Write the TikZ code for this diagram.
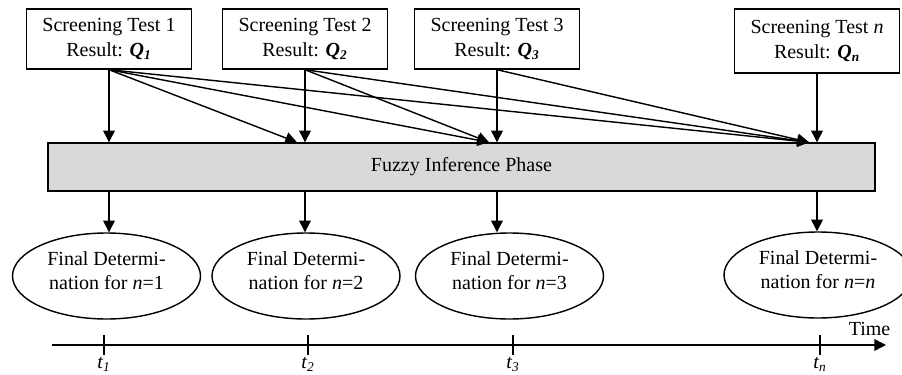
\documentclass[tikz,border=0pt,12pt]{standalone}
\usepackage{fontspec}
\setmainfont{Liberation Serif}
\usetikzlibrary{arrows.meta,calc,shapes.geometric}
\tikzset{>={Triangle[length=7pt,width=7pt]}}
\colorlet{phasegray}{black!15}
\newcommand{\resq}[1]{\textbf{\textit{Q\textsubscript{#1}}}}
\newcommand{\tick}[1]{\textit{t}\textsubscript{\textit{#1}}}

\begin{document}
\begin{tikzpicture}[x=0.6pt,y=-0.6pt,line width=0.85pt,
  testbox/.style={draw,fill=white,align=center,inner sep=0pt,minimum width=99pt,minimum height=36pt},
  finalell/.style={draw,ellipse,inner sep=0pt,minimum width=112.8pt,minimum height=51.6pt}]
  \useasboundingbox (0,0) rectangle (902,375);
  % screening tests
  \node[testbox] (q1) at (109,39) {Screening Test 1\\Result: \resq{1}};
  \node[testbox] (q2) at (305,39) {Screening Test 2\\Result: \resq{2}};
  \node[testbox] (q3) at (497,39) {Screening Test 3\\Result: \resq{3}};
  \node[testbox,minimum height=38.4pt] (qn) at (817,41) {Screening Test \textit{n}\\Result: \resq{n}};
  % inference phase
  \node[draw,fill=phasegray,minimum width=496.2pt,minimum height=28.8pt] (fip) at (461.5,167) {Fuzzy Inference Phase};
  % final determinations
  \node[finalell,label={[align=center,yshift=3pt]center:Final Determi-\\nation for \textit{n}=1}] (f1) at (106.5,276) {};
  \node[finalell,label={[align=center,yshift=3pt]center:Final Determi-\\nation for \textit{n}=2}] (f2) at (306,276) {};
  \node[finalell,label={[align=center,yshift=3pt]center:Final Determi-\\nation for \textit{n}=3}] (f3) at (509.5,276) {};
  \node[finalell,label={[align=center,yshift=3pt]center:Final Determi-\\nation for \textit{n}=\textit{n}}] (fn) at (818,275) {};
  % inputs
  \coordinate (d2) at ($(q2.south |- fip.north)+(-8,0)$);
  \coordinate (d3) at ($(q3.south |- fip.north)+(-8,0)$);
  \coordinate (dn) at ($(qn.south |- fip.north)+(-8,0)$);
  \draw[->] (q1.south) -- (q1.south |- fip.north);
  \draw[->] (q2.south) -- (q2.south |- fip.north);
  \draw[->] (q3.south) -- (q3.south |- fip.north);
  \draw[->] (qn.south) -- (qn.south |- fip.north);
  \foreach \s/\t in {q1/d2,q1/d3,q1/dn,q2/d3,q2/dn,q3/dn}
    \draw[->] (\s.south) -- (\t);
  % outputs
  \draw[->] (q1.south |- fip.south) -- (q1.south |- f1.north);
  \draw[->] (q2.south |- fip.south) -- (q2.south |- f2.north);
  \draw[->] (q3.south |- fip.south) -- (q3.south |- f3.north);
  \draw[->] (qn.south |- fip.south) -- (qn.south |- fn.north);
  % time axis
  \coordinate (ta) at (52,345);
  \coordinate (tb) at (886,345);
  \draw[->] (ta) -- (tb);
  \node[anchor=base east,inner sep=0pt] (time) at (891,335) {Time};
  \foreach \x/\i in {104/1,308/2,513/3,820/n}
    \draw (\x,335) -- (\x,355) node[below,inner sep=1pt] {\tick{\i}};
\end{tikzpicture}
\end{document}
